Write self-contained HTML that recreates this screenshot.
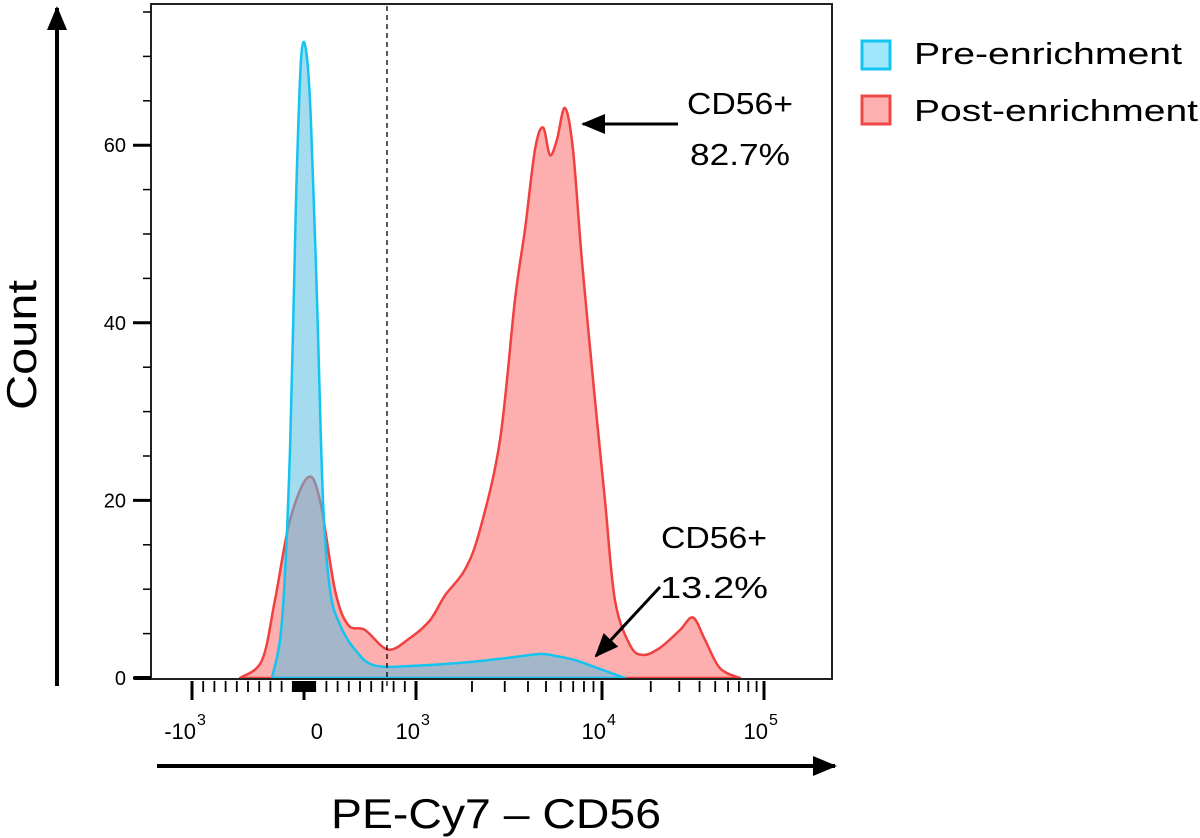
<!DOCTYPE html>
<html><head><meta charset="utf-8"><style>
html,body{margin:0;padding:0;background:#fff;}
svg{display:block;font-family:"Liberation Sans",sans-serif;}
</style></head><body>
<svg id="chart" width="1200" height="838" viewBox="0 0 1200 838" xmlns="http://www.w3.org/2000/svg">
<defs>
<marker id="ah2" markerWidth="24" markerHeight="20" refX="22" refY="10" orient="auto" markerUnits="userSpaceOnUse"><path d="M0,0 L24,10 L0,20 z" fill="#000"/></marker>
</defs>
<g id="marks"></g>
<rect x="151" y="4" width="681" height="675" fill="none" stroke="#222" stroke-width="2"/>
<line x1="387" y1="6" x2="387" y2="690" stroke="#000" stroke-width="1.3" stroke-dasharray="5,4"/>
<g id="axes"></g>
<line x1="57" y1="686" x2="57" y2="8" stroke="#000" stroke-width="4" marker-end="url(#ah2)"/>
<line x1="157" y1="766" x2="835" y2="766" stroke="#000" stroke-width="4" marker-end="url(#ah2)"/>
<text x="36" y="345" font-size="42" transform="rotate(-90 36 345)" text-anchor="middle" textLength="130" lengthAdjust="spacingAndGlyphs">Count</text>
<text x="496" y="828" font-size="42" text-anchor="middle" textLength="330" lengthAdjust="spacingAndGlyphs">PE-Cy7 – CD56</text>
<rect x="862" y="41" width="28" height="28" fill="#9fe8fb" stroke="#14c4f0" stroke-width="3"/>
<text x="914" y="64" font-size="31" textLength="268" lengthAdjust="spacingAndGlyphs">Pre-enrichment</text>
<rect x="862" y="96" width="28" height="28" fill="#fdb0b0" stroke="#f04848" stroke-width="3"/>
<text x="914" y="121" font-size="31" textLength="284" lengthAdjust="spacingAndGlyphs">Post-enrichment</text>
<text x="740" y="114" font-size="31" text-anchor="middle" textLength="106" lengthAdjust="spacingAndGlyphs">CD56+</text>
<text x="740" y="165" font-size="31" text-anchor="middle" textLength="100" lengthAdjust="spacingAndGlyphs">82.7%</text>
<line x1="678" y1="124" x2="583" y2="124" stroke="#000" stroke-width="3" marker-end="url(#ah2)"/>
<text x="714" y="548" font-size="31" text-anchor="middle" textLength="106" lengthAdjust="spacingAndGlyphs">CD56+</text>
<text x="714" y="598" font-size="31" text-anchor="middle" textLength="108" lengthAdjust="spacingAndGlyphs">13.2%</text>
<line x1="660" y1="587" x2="596" y2="656" stroke="#000" stroke-width="3" marker-end="url(#ah2)"/>
</svg>
<script>
const postX=[-571,-375,-259,-125,36,143,277,393,545,750,946,1189,1432,1833,2208,2830,3405,3854,4364,4820,5250,5725,6320,6980,7800,9170,10436,12020,14890,17910,22800,30300,36450,43260,53500,71100];
const postY=[0,2,8.8,17.8,22.6,20,9.9,6,5.4,3.2,4.5,6.5,9.3,12.2,16.7,26.8,42.6,50.5,59.5,62,58.9,60.6,64.2,59.5,47,31.3,20,8.8,3.7,2.6,3.4,5.4,6.8,4.3,1.1,0];
const preX=[-286,-196,-125,-71,-27,18,62,116,170,232,321,455,634,1022,1950,3200,4620,5590,7190,9500,13870];
const preY=[0,6.5,25.7,53.8,69.6,70.7,62.8,42.6,20,9.9,6,3.2,1.4,1.4,1.8,2.3,2.7,2.5,2,1.1,0];
const yTicks=[0,20,40,60];
const xTickVals=[-1000,0,1000,10000,100000];
const xTickExp=["3","","3","4","5"];

const NS="http://www.w3.org/2000/svg";
function yS(v){return 678-v*8.88;}
function xS(v){
  if(v<=1000)return 304+v/1000*112;
  if(v<=10000)return 416+(Math.log10(v)-3)*186;
  return 602+(Math.log10(v)-4)*162;
}
function mk(t,a,p){const e=document.createElementNS(NS,t);for(const k in a)e.setAttribute(k,a[k]);(p||document.getElementById('axes')).appendChild(e);return e;}
function area(xs,ys){
  const P=xs.map((x,i)=>[xS(x),yS(ys[i])]);
  let d='M'+P[0][0].toFixed(1)+','+yS(0)+' L'+P[0][0].toFixed(1)+','+P[0][1].toFixed(1);
  for(let i=0;i<P.length-1;i++){
    const p0=P[Math.max(0,i-1)],p1=P[i],p2=P[i+1],p3=P[Math.min(P.length-1,i+2)];
    const c1=[p1[0]+(p2[0]-p0[0])/6,p1[1]+(p2[1]-p0[1])/6];
    const c2=[p2[0]-(p3[0]-p1[0])/6,p2[1]-(p3[1]-p1[1])/6];
    d+=' C'+c1[0].toFixed(1)+','+Math.min(yS(0),c1[1]).toFixed(1)+' '+c2[0].toFixed(1)+','+Math.min(yS(0),c2[1]).toFixed(1)+' '+p2[0].toFixed(1)+','+p2[1].toFixed(1);
  }
  d+=' L'+P[P.length-1][0].toFixed(1)+','+yS(0)+' Z';return d;}
const marks=document.getElementById('marks');
const post=mk('path',{d:area(postX,postY),fill:'rgba(252,120,120,0.6)',stroke:'#f04040','stroke-width':2.5,'stroke-linejoin':'round'},marks);


const pre=mk('path',{d:area(preX,preY),fill:'rgba(90,190,225,0.55)',stroke:'#14c4f0','stroke-width':2.5,'stroke-linejoin':'round'},marks);


for(let v=0;v<=75;v+=5){const maj=v%20===0;const t=mk('line',{x1:maj?133:143,x2:151,y1:yS(v),y2:yS(v),stroke:'#000','stroke-width':maj?3:1.5});

}
yTicks.forEach(v=>{const t=mk('text',{x:126,y:yS(v)+7,'font-size':20,'text-anchor':'end'});t.textContent=v;

});
const minor=[];
for(let k=2;k<=9;k++){minor.push(k*100);minor.push(-k*100);minor.push(k*1000);minor.push(k*10000);}
for(let k=1;k<=9;k++)minor.push(k*10);
for(let k=1;k<=9;k++)minor.push(-k*10);
minor.push(100,-100);
minor.forEach(v=>{const t=mk('line',{x1:xS(v),x2:xS(v),y1:681,y2:692,stroke:'#000','stroke-width':1.8});

});
xTickVals.forEach((v,i)=>{const t=mk('line',{x1:xS(v),x2:xS(v),y1:681,y2:700,stroke:'#000','stroke-width':3});


const lab=mk('text',{x:xS(v)+(xTickExp[i]?4:19),y:739,'font-size':22,'text-anchor':'end'});


if(xTickExp[i]){lab.textContent=(v<0?'-':'')+'10';const s=mk('text',{x:xS(v)+5,y:725,'font-size':16});s.textContent=xTickExp[i];

}
else lab.textContent='0';});
mk('line',{x1:134,x2:151,y1:678,y2:678,stroke:'#000','stroke-width':4});
</script>
</body></html>
